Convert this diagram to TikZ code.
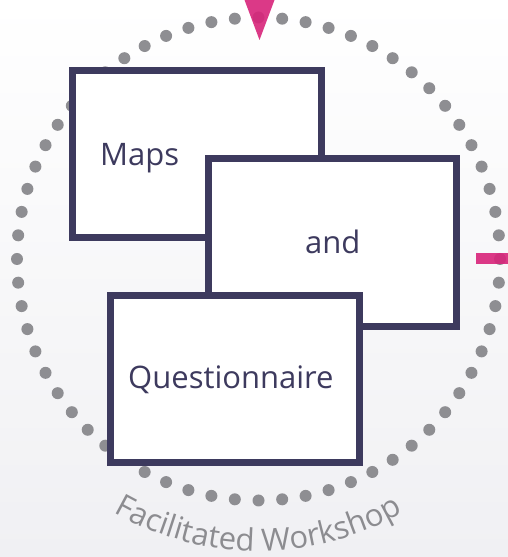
\documentclass[tikz,border=0pt]{standalone}
\usepackage{fontspec}
\setmainfont{Open Sans}
\usetikzlibrary{decorations.text}
\definecolor{boxline}{HTML}{3D3A5E}
\definecolor{dotgray}{HTML}{8E8E92}
\definecolor{arcgray}{HTML}{8C8C90}
\definecolor{accentpink}{HTML}{D8247A}
\definecolor{bggray}{HTML}{F0F0F3}
\tikzset{
  panel/.style={draw=boxline, line width=7pt, fill=white},
  panellabel/.style={text=boxline, font=\fontsize{31}{35}\selectfont, inner sep=0pt, anchor=base west},
}

\begin{document}
\begin{tikzpicture}[x=1pt, y=1pt]
  % background
  \shade[top color=white, bottom color=bggray] (0,0) rectangle (508,557);
  \useasboundingbox (0,0) rectangle (508,557);

  % ring of dots
  \coordinate (ctr) at (258.5,298);
  \foreach \k in {0,...,63} {
    \fill[dotgray] (ctr) ++(\k*5.625:241.5) circle (6);
  }

  % markers
  \fill[accentpink, opacity=0.9] (244.5,557) -- (274.5,557) -- (259.5,517) -- cycle;
  \fill[accentpink, opacity=0.9] (476,293) rectangle (508,304);

  % boxes
  \draw[panel] (72.5,319) rectangle (321,486.5);
  \draw[panel] (208,230.5) rectangle (456,398);
  \draw[panel] (110,94) rectangle (359.5,261);
  \node[panellabel] (maps) at (100,391) {Maps};
  \node[panellabel] (and) at (305,303) {and};
  \node[panellabel] (quest) at (128,168) {Questionnaire};

  % arc text
  \path[shift={(ctr)}, decorate, decoration={text along path, text align=center, text color=arcgray,
    text={|\fontsize{31}{34}\selectfont|Facilitated Workshop}}] (200:292) arc (200:340:292);
\end{tikzpicture}
\end{document}
